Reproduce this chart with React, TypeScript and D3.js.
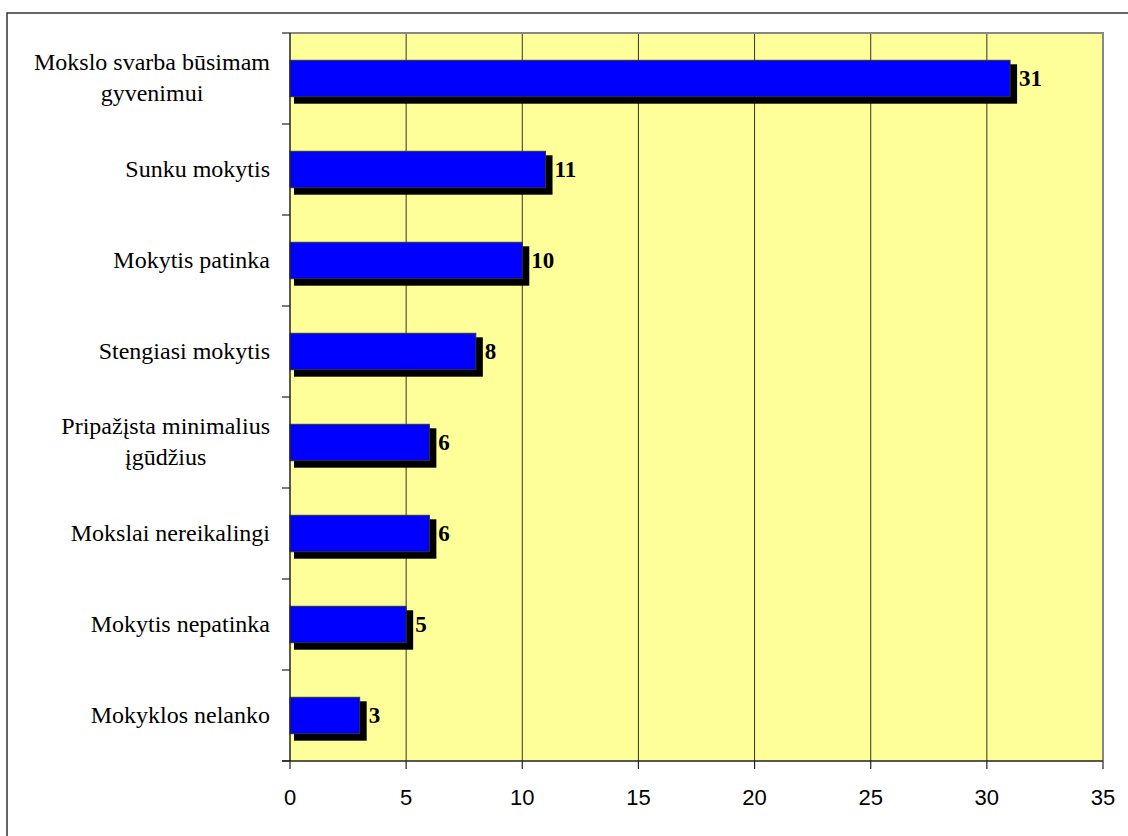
import React, { useEffect, useRef } from "react";
import * as d3 from "d3";

const categories: string[] = [
  "Mokslo svarba būsimam\ngyvenimui",
  "Sunku mokytis",
  "Mokytis patinka",
  "Stengiasi mokytis",
  "Pripažįsta minimalius\nįgūdžius",
  "Mokslai nereikalingi",
  "Mokytis nepatinka",
  "Mokyklos nelanko",
];
const values: number[] = [31, 11, 10, 8, 6, 6, 5, 3];
const xTicks: number[] = [0, 5, 10, 15, 20, 25, 30, 35];

const W = 1128;
const H = 836;
const plot = { left: 290, right: 1103, top: 33, bottom: 761 };
const SERIF = "'Liberation Serif', 'Times New Roman', 'DejaVu Serif', serif";
const SANS = "'Liberation Sans', Arial, sans-serif";

export default function App() {
  const ref = useRef<SVGSVGElement | null>(null);

  useEffect(() => {
    const svg = d3.select(ref.current);
    svg.selectAll("*").remove();

    const x = d3.scaleLinear().domain([0, 35]).range([plot.left, plot.right]);
    const y = d3
      .scaleBand<number>()
      .domain(d3.range(categories.length))
      .range([plot.top, plot.bottom])
      .paddingInner(0.6)
      .paddingOuter(0.3);
    const step = (plot.bottom - plot.top) / categories.length;

    // outer frame
    svg
      .append("rect")
      .attr("x", 7)
      .attr("y", 13)
      .attr("width", W)
      .attr("height", H)
      .attr("fill", "white")
      .attr("stroke", "#333")
      .attr("stroke-width", 1.5);

    // plot background
    svg
      .append("rect")
      .attr("x", plot.left)
      .attr("y", plot.top)
      .attr("width", plot.right - plot.left)
      .attr("height", plot.bottom - plot.top)
      .attr("fill", "#FFFF99");

    // gridlines
    svg
      .append("g")
      .selectAll("line")
      .data(xTicks.filter((t) => t > 0 && t < 35))
      .join("line")
      .attr("x1", (d) => x(d))
      .attr("x2", (d) => x(d))
      .attr("y1", plot.top)
      .attr("y2", plot.bottom)
      .attr("stroke", "#333")
      .attr("stroke-width", 1);

    // plot border top/right
    svg
      .append("path")
      .attr("d", `M${plot.left},${plot.top}H${plot.right}V${plot.bottom}`)
      .attr("fill", "none")
      .attr("stroke", "#888")
      .attr("stroke-width", 2);

    // bars with shadows
    const g = svg.append("g");
    values.forEach((v, i) => {
      const y0 = y(i)!;
      const h = y.bandwidth();
      const x0 = x(0);
      const x1 = x(v);
      g.append("rect")
        .attr("x", x0 + 4)
        .attr("y", y0 + 4)
        .attr("width", x1 - x0 + 3)
        .attr("height", h + 3)
        .attr("fill", "#000");
      g.append("rect")
        .attr("x", x0)
        .attr("y", y0)
        .attr("width", x1 - x0)
        .attr("height", h)
        .attr("fill", "#0000FF")
        .attr("stroke", "#333")
        .attr("stroke-width", 1);
      g.append("text")
        .attr("x", x1 + 9)
        .attr("y", y0 + h / 2 + 7.5)
        .style("font-family", SERIF)
        .style("font-weight", "bold")
        .style("font-size", "23px")
        .attr("fill", "#000")
        .text(String(v));
    });

    // axes
    svg
      .append("line")
      .attr("x1", plot.left)
      .attr("x2", plot.left)
      .attr("y1", plot.top)
      .attr("y2", plot.bottom)
      .attr("stroke", "#222")
      .attr("stroke-width", 1.5);
    svg
      .append("line")
      .attr("x1", plot.left - 8)
      .attr("x2", plot.right)
      .attr("y1", plot.bottom)
      .attr("y2", plot.bottom)
      .attr("stroke", "#222")
      .attr("stroke-width", 1.5);

    // y ticks at category boundaries
    svg
      .append("g")
      .selectAll("line")
      .data(d3.range(categories.length + 1))
      .join("line")
      .attr("x1", plot.left - 8)
      .attr("x2", plot.left)
      .attr("y1", (d) => plot.top + d * step)
      .attr("y2", (d) => plot.top + d * step)
      .attr("stroke", "#222")
      .attr("stroke-width", 1.2);

    // x ticks and labels
    const xt = svg.append("g");
    xt.selectAll("line")
      .data(xTicks)
      .join("line")
      .attr("x1", (d) => x(d))
      .attr("x2", (d) => x(d))
      .attr("y1", plot.bottom)
      .attr("y2", plot.bottom + 8)
      .attr("stroke", "#222")
      .attr("stroke-width", 1.2);
    xt.selectAll("text")
      .data(xTicks)
      .join("text")
      .attr("x", (d) => x(d))
      .attr("y", plot.bottom + 44)
      .attr("text-anchor", "middle")
      .style("font-family", SANS)
      .style("font-size", "22px")
      .attr("fill", "#000")
      .text((d) => String(d));

    // category labels: right-aligned block, lines centered within block
    const labelRight = 270;
    const lh = 31;
    categories.forEach((c, i) => {
      const lines = c.split("\n");
      const cy = y(i)! + y.bandwidth() / 2;
      const t = svg
        .append("text")
        .style("font-family", SERIF)
        .style("font-size", "24px")
        .attr("fill", "#000")
        .attr("text-anchor", "middle");
      const spans = lines.map((ln, j) =>
        t
          .append("tspan")
          .attr("y", cy + 7 - ((lines.length - 1) * lh) / 2 + j * lh)
          .text(ln)
      );
      const widths = spans.map((s) => (s.node() as SVGTSpanElement).getComputedTextLength());
      const bw = Math.max(...widths);
      spans.forEach((s) => s.attr("x", labelRight - bw / 2));
    });
  }, []);

  return (
    <svg
      ref={ref}
      width={W}
      height={H}
      style={{ position: "absolute", left: 0, top: 0, background: "white" }}
    />
  );
}
